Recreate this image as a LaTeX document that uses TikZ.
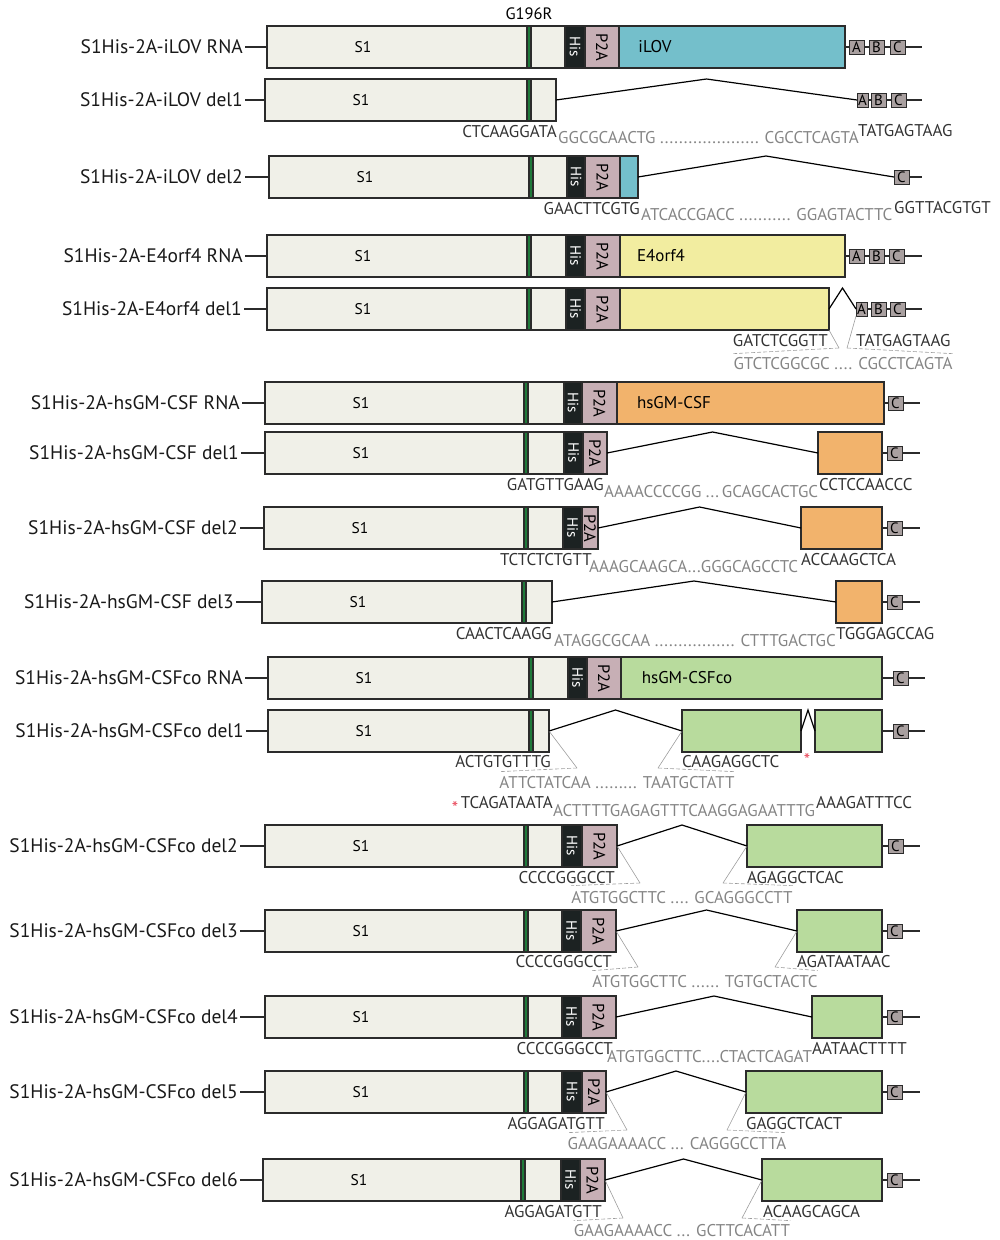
\documentclass[tikz,border=0pt]{standalone}
\usepackage{fontspec}
\setmainfont{PT Sans}
\usetikzlibrary{calc,positioning}
\definecolor{s1fill}{HTML}{F0F0E8}
\definecolor{boxline}{HTML}{2B2B2B}
\definecolor{mutgreen}{HTML}{1F7A3A}
\definecolor{hisblack}{HTML}{1C2222}
\definecolor{ptamauve}{HTML}{C7AFB5}
\definecolor{ilovcyan}{HTML}{74BFCB}
\definecolor{e4yellow}{HTML}{F2EDA0}
\definecolor{csforange}{HTML}{F2B36C}
\definecolor{cogreen}{HTML}{B8DB9D}
\definecolor{utrgray}{HTML}{A9A0A0}
\definecolor{seqgray}{HTML}{858585}
\definecolor{starred}{HTML}{E8485A}
\tikzset{
  part/.style={draw=boxline, line width=1.1pt, inner sep=0pt, outer sep=0pt, minimum height=42pt, anchor=west},
  s1part/.style={part, fill=s1fill},
  mutbar/.style={part, fill=mutgreen, minimum width=4pt},
  hispart/.style={part, fill=hisblack, minimum width=19pt, text=white, font=\fontsize{15}{15}\selectfont},
  ptapart/.style={part, fill=ptamauve, minimum width=35pt, font=\fontsize{16.5}{16}\selectfont},
  ilovpart/.style={part, fill=ilovcyan},
  e4part/.style={part, fill=e4yellow},
  csfpart/.style={part, fill=csforange},
  copart/.style={part, fill=cogreen},
  utr/.style={draw=boxline, line width=1pt, fill=utrgray, minimum width=15pt, minimum height=14pt,
              inner sep=0pt, outer sep=0pt, anchor=west, font=\fontsize{15}{15}\selectfont},
  namelab/.style={anchor=east, inner sep=2pt, font=\fontsize{19.5}{20}\selectfont, text=black!90},
  s1txt/.style={inner sep=0pt, font=\fontsize{15.5}{16}\selectfont},
  instxt/.style={inner sep=0pt, font=\fontsize{17}{17}\selectfont},
  mutlab/.style={inner sep=0pt, font=\fontsize{16.5}{17}\selectfont},
  seqk/.style={inner sep=0pt, font=\fontsize{17}{17}\selectfont, text=black!80},
  seqg/.style={seqk, text=seqgray},
  redstar/.style={inner sep=0pt, text=starred, font=\fontsize{18}{18}\selectfont},
  link/.style={draw=boxline, line width=1.1pt},
  splice/.style={draw=black, line width=1.2pt},
  zoomln/.style={draw=seqgray!80, line width=0.6pt},
  zoomdash/.style={zoomln, dash pattern=on 4pt off 2pt},
}

\begin{document}
\begin{tikzpicture}[x=1pt, y=-1pt]
\useasboundingbox (0,0) rectangle (999,1240);

% iLOV RNA
\node[s1part, minimum width=260pt] (s1-1) at (267,47) {};
\node[mutbar] (mut-1) at (s1-1.east) {};
\node[s1part, minimum width=34pt] (sp-1) at (mut-1.east) {};
\node[hispart, minimum width=20pt] (his-1) at (sp-1.east) {\rotatebox{-90}{His}};
\node[ptapart, minimum width=34pt] (pta-1) at (his-1.east) {\rotatebox{-90}{P2A}};
\node[ilovpart, minimum width=226pt] (ex-1) at (pta-1.east) {};
\node[instxt] (nm-1) at (655,47) {iLOV};
\node[mutlab, above=6pt of mut-1] (g196r) {G196R};
\node[utr] (utrA-1) at (849,47) {A};
\node[utr] (utrB-1) at (869,47) {B};
\node[utr] (utrC-1) at (890,47) {C};
\coordinate (end-1) at (922,47);
\draw[link] (ex-1.east) -- (utrA-1.west) (utrA-1.east) -- (utrB-1.west) (utrB-1.east) -- (utrC-1.west) (utrC-1.east) -- (end-1);

% iLOV del1
\node[s1part, minimum width=262pt] (s1-2) at (265,100) {};
\node[mutbar] (mut-2) at (s1-2.east) {};
\node[s1part, minimum width=25pt] (sp-2) at (mut-2.east) {};
\node[utr, minimum width=11pt] (utrA-2) at (857,100) {A};
\node[utr] (utrB-2) at (871,100) {B};
\node[utr] (utrC-2) at (891,100) {C};
\coordinate (end-2) at (922,100);
\draw[link] (utrA-2.east) -- (utrB-2.west) (utrB-2.east) -- (utrC-2.west) (utrC-2.east) -- (end-2);
\node[seqk, anchor=east] (dn-2) at (557,132) {CTCAAGGATA};
\node[seqg, anchor=west] (in-2) at (558,138) {GGCGCAACTG ..................... CGCCTCAGTA};
\node[seqk, anchor=west] (ac-2) at (858,131) {TATGAGTAAG};

% iLOV del2
\node[s1part, minimum width=260pt] (s1-3) at (269,177) {};
\node[mutbar] (mut-3) at (s1-3.east) {};
\node[s1part, minimum width=34pt] (sp-3) at (mut-3.east) {};
\node[hispart, minimum width=18pt] (his-3) at (sp-3.east) {\rotatebox{-90}{His}};
\node[ptapart] (pta-3) at (his-3.east) {\rotatebox{-90}{P2A}};
\node[ilovpart, minimum width=18pt] (ex-3) at (pta-3.east) {};
\node[utr] (utrC-3) at (894,177) {C};
\coordinate (end-3) at (922,177);
\draw[link] (utrC-3.east) -- (end-3);
\node[seqk, anchor=east] (dn-3) at (640,209) {GAACTTCGTG};
\node[seqg, anchor=west] (in-3) at (641,215) {ATCACCGACC ........... GGAGTACTTC};
\node[seqk, anchor=west] (ac-3) at (894,208) {GGTTACGTGT};

% E4orf4 RNA
\node[s1part, minimum width=260pt] (s1-4) at (267,256) {};
\node[mutbar] (mut-4) at (s1-4.east) {};
\node[s1part, minimum width=35pt] (sp-4) at (mut-4.east) {};
\node[hispart] (his-4) at (sp-4.east) {\rotatebox{-90}{His}};
\node[ptapart] (pta-4) at (his-4.east) {\rotatebox{-90}{P2A}};
\node[e4part, minimum width=225pt] (ex-4) at (pta-4.east) {};
\node[instxt] (nm-4) at (661,256) {E4orf4};
\node[utr] (utrA-4) at (849,256) {A};
\node[utr] (utrB-4) at (869,256) {B};
\node[utr] (utrC-4) at (889,256) {C};
\coordinate (end-4) at (922,256);
\draw[link] (ex-4.east) -- (utrA-4.west) (utrA-4.east) -- (utrB-4.west) (utrB-4.east) -- (utrC-4.west) (utrC-4.east) -- (end-4);

% E4orf4 del1
\node[s1part, minimum width=260pt] (s1-5) at (267,309) {};
\node[mutbar] (mut-5) at (s1-5.east) {};
\node[s1part, minimum width=35pt] (sp-5) at (mut-5.east) {};
\node[hispart] (his-5) at (sp-5.east) {\rotatebox{-90}{His}};
\node[ptapart] (pta-5) at (his-5.east) {\rotatebox{-90}{P2A}};
\node[e4part, minimum width=209pt] (ex-5) at (pta-5.east) {};
\node[utr, minimum width=11pt] (utrA-5) at (856,309) {A};
\node[utr] (utrB-5) at (871,309) {B};
\node[utr] (utrC-5) at (890,309) {C};
\coordinate (end-5) at (922,309);
\draw[link] (utrA-5.east) -- (utrB-5.west) (utrB-5.east) -- (utrC-5.west) (utrC-5.east) -- (end-5);
\node[seqk, anchor=east] (dn-5) at (828,341) {GATCTCGGTT};
\node[seqk, anchor=west] (ac-5) at (856,341) {TATGAGTAAG};
\node[seqg] (in-5) at (843,364) {GTCTCGGCGC .... CGCCTCAGTA};
\coordinate (bl-5) at (839,348);
\coordinate (br-5) at (847,348);
\draw[zoomln] (ex-5.south east) -- (bl-5) (utrA-5.south west) -- (br-5);
\draw[zoomdash] (bl-5) -- ([yshift=4pt]in-5.north west) (br-5) -- ([yshift=4pt]in-5.north east);

% hsGM-CSF RNA
\node[s1part, minimum width=259pt] (s1-6) at (265,403) {};
\node[mutbar] (mut-6) at (s1-6.east) {};
\node[s1part, minimum width=36pt] (sp-6) at (mut-6.east) {};
\node[hispart, minimum width=18pt] (his-6) at (sp-6.east) {\rotatebox{-90}{His}};
\node[ptapart] (pta-6) at (his-6.east) {\rotatebox{-90}{P2A}};
\node[csfpart, minimum width=267pt] (ex-6) at (pta-6.east) {};
\node[instxt] (nm-6) at (674,403) {hsGM-CSF};

% hsGM-CSF del1
\node[s1part, minimum width=259pt] (s1-7) at (265,453) {};
\node[mutbar] (mut-7) at (s1-7.east) {};
\node[s1part, minimum width=36pt] (sp-7) at (mut-7.east) {};
\node[hispart] (his-7) at (sp-7.east) {\rotatebox{-90}{His}};
\node[ptapart, minimum width=24pt] (pta-7) at (his-7.east) {\rotatebox{-90}{P2A}};
\node[csfpart, minimum width=64pt] (ex-7) at (818,453) {};
\node[seqk, anchor=east] (dn-7) at (604,485) {GATGTTGAAG};
\node[seqg, anchor=west] (in-7) at (604,492) {AAAACCCCGG ...\,GCAGCACTGC};
\node[seqk, anchor=west] (ac-7) at (819,485) {CCTCCAACCC};

% hsGM-CSF del2
\node[s1part, minimum width=260pt] (s1-8) at (264,528) {};
\node[mutbar] (mut-8) at (s1-8.east) {};
\node[s1part, minimum width=35pt] (sp-8) at (mut-8.east) {};
\node[hispart] (his-8) at (sp-8.east) {\rotatebox{-90}{His}};
\node[ptapart, minimum width=16pt] (pta-8) at (his-8.east) {\rotatebox{-90}{P2A}};
\node[csfpart, minimum width=81pt] (ex-8) at (801,528) {};
\node[seqk, anchor=east] (dn-8) at (592,560) {TCTCTCTGTT};
\node[seqg, anchor=west] (in-8) at (589,567) {AAAGCAAGCA...GGGCAGCCTC};
\node[seqk, anchor=west] (ac-8) at (801,560) {ACCAAGCTCA};

% hsGM-CSF del3
\node[s1part, minimum width=260pt] (s1-9) at (262,602) {};
\node[mutbar] (mut-9) at (s1-9.east) {};
\node[s1part, minimum width=26pt] (sp-9) at (mut-9.east) {};
\node[csfpart, minimum width=46pt] (ex-9) at (836,602) {};
\node[seqk, anchor=east] (dn-9) at (552,634) {CAACTCAAGG};
\node[seqg, anchor=west] (in-9) at (554,641) {ATAGGCGCAA ................. CTTTGACTGC};
\node[seqk, anchor=west] (ac-9) at (836,634) {TGGGAGCCAG};

% hsGM-CSFco RNA
\node[s1part, minimum width=261pt] (s1-10) at (268,678) {};
\node[mutbar] (mut-10) at (s1-10.east) {};
\node[s1part, minimum width=35pt] (sp-10) at (mut-10.east) {};
\node[hispart] (his-10) at (sp-10.east) {\rotatebox{-90}{His}};
\node[ptapart, minimum width=34pt] (pta-10) at (his-10.east) {\rotatebox{-90}{P2A}};
\node[copart, minimum width=261pt] (ex-10) at (pta-10.east) {};
\node[instxt] (nm-10) at (687,678) {hsGM-CSFco};

% hsGM-CSFco del1
\node[s1part, minimum width=261pt] (s1-11) at (268,731) {};
\node[mutbar] (mut-11) at (s1-11.east) {};
\node[s1part, minimum width=16pt] (sp-11) at (mut-11.east) {};
\node[copart, minimum width=119pt] (exa-11) at (682,731) {};
\node[copart, minimum width=67pt] (ex-11) at (815,731) {};
\node[redstar] (ast-1) at (807,760) {*};
\node[seqk, anchor=east] (dn-11) at (551,762) {ACTGTGTTTG};
\node[seqk, anchor=west] (ac-11) at (682,762) {CAAGAGGCTC};
\node[seqg] (in-11) at (617,783) {ATTCTATCAA ......... TAATGCTATT};
\coordinate (bl-11) at (577,768);
\coordinate (br-11) at (658,768);
\draw[zoomln] (sp-11.east) -- (bl-11) (exa-11.west) -- (br-11);
\draw[zoomdash] (bl-11) -- ([yshift=5pt]in-11.north west) (br-11) -- ([yshift=5pt]in-11.north east);
\node[redstar] (ast-2) at (455,808) {*};
\node[seqk, anchor=east] (dnb-11) at (553,803) {TCAGATAATA};
\node[seqg, anchor=west] (inb-11) at (553,811) {ACTTTTGAGAGTTTCAAGGAGAATTTG};
\node[seqk, anchor=west] (acb-11) at (816,803) {AAAGATTTCC};

% hsGM-CSFco del2
\node[s1part, minimum width=259pt] (s1-12) at (265,846) {};
\node[mutbar] (mut-12) at (s1-12.east) {};
\node[s1part, minimum width=34pt] (sp-12) at (mut-12.east) {};
\node[hispart, minimum width=20pt] (his-12) at (sp-12.east) {\rotatebox{-90}{His}};
\node[ptapart] (pta-12) at (his-12.east) {\rotatebox{-90}{P2A}};
\node[copart, minimum width=135pt] (ex-12) at (747,846) {};
\node[seqk, anchor=east] (dn-12) at (615,878) {CCCCGGGCCT};
\node[seqk, anchor=west] (ac-12) at (747,878) {AGAGGCTCAC};
\node[seqg] (in-12) at (682,898) {ATGTGGCTTC .... GCAGGGCCTT};
\coordinate (bl-12) at (640,883);
\coordinate (br-12) at (723,883);
\draw[zoomln] (pta-12.east) -- (bl-12) (ex-12.west) -- (br-12);
\draw[zoomdash] (bl-12) -- ([yshift=6pt]in-12.north west) (br-12) -- ([yshift=6pt]in-12.north east);

% hsGM-CSFco del3
\node[s1part, minimum width=259pt] (s1-13) at (265,931) {};
\node[mutbar] (mut-13) at (s1-13.east) {};
\node[s1part, minimum width=34pt] (sp-13) at (mut-13.east) {};
\node[hispart] (his-13) at (sp-13.east) {\rotatebox{-90}{His}};
\node[ptapart] (pta-13) at (his-13.east) {\rotatebox{-90}{P2A}};
\node[copart, minimum width=85pt] (ex-13) at (797,931) {};
\node[seqk, anchor=east] (dn-13) at (612,962) {CCCCGGGCCT};
\node[seqk, anchor=west] (ac-13) at (797,962) {AGATAATAAC};
\node[seqg] (in-13) at (705,982) {ATGTGGCTTC ...... TGTGCTACTC};
\coordinate (bl-13) at (638,967);
\coordinate (br-13) at (775,967);
\draw[zoomln] (pta-13.east) -- (bl-13) (ex-13.west) -- (br-13);
\draw[zoomdash] (bl-13) -- ([yshift=5pt]in-13.north west) (br-13) -- ([yshift=5pt]in-13.north east);

% hsGM-CSFco del4
\node[s1part, minimum width=259pt] (s1-14) at (265,1017) {};
\node[mutbar] (mut-14) at (s1-14.east) {};
\node[s1part, minimum width=34pt] (sp-14) at (mut-14.east) {};
\node[hispart] (his-14) at (sp-14.east) {\rotatebox{-90}{His}};
\node[ptapart] (pta-14) at (his-14.east) {\rotatebox{-90}{P2A}};
\node[copart, minimum width=70pt] (ex-14) at (812,1017) {};
\node[seqk, anchor=east] (dn-14) at (613,1049) {CCCCGGGCCT};
\node[seqg, anchor=west] (in-14) at (607,1057) {ATGTGGCTTC....CTACTCAGAT};
\node[seqk, anchor=west] (ac-14) at (812,1049) {AATAACTTTT};

% hsGM-CSFco del5
\node[s1part, minimum width=259pt] (s1-15) at (265,1092) {};
\node[mutbar] (mut-15) at (s1-15.east) {};
\node[s1part, minimum width=34pt] (sp-15) at (mut-15.east) {};
\node[hispart, minimum width=20pt] (his-15) at (sp-15.east) {\rotatebox{-90}{His}};
\node[ptapart, minimum width=24pt] (pta-15) at (his-15.east) {\rotatebox{-90}{P2A}};
\node[copart, minimum width=136pt] (ex-15) at (746,1092) {};
\node[seqk, anchor=east] (dn-15) at (605,1124) {AGGAGATGTT};
\node[seqk, anchor=west] (ac-15) at (746,1124) {GAGGCTCACT};
\node[seqg] (in-15) at (677,1144) {GAAGAAAACC ... CAGGGCCTTA};
\coordinate (bl-15) at (627,1130);
\coordinate (br-15) at (727,1130);
\draw[zoomln] (pta-15.east) -- (bl-15) (ex-15.west) -- (br-15);
\draw[zoomdash] (bl-15) -- ([yshift=5pt]in-15.north west) (br-15) -- ([yshift=5pt]in-15.north east);

% hsGM-CSFco del6
\node[s1part, minimum width=258pt] (s1-16) at (263,1180) {};
\node[mutbar] (mut-16) at (s1-16.east) {};
\node[s1part, minimum width=36pt] (sp-16) at (mut-16.east) {};
\node[hispart] (his-16) at (sp-16.east) {\rotatebox{-90}{His}};
\node[ptapart, minimum width=25pt] (pta-16) at (his-16.east) {\rotatebox{-90}{P2A}};
\node[copart, minimum width=120pt] (ex-16) at (762,1180) {};
\node[seqk, anchor=east] (dn-16) at (602,1212) {AGGAGATGTT};
\node[seqk, anchor=west] (ac-16) at (763,1212) {ACAAGCAGCA};
\node[seqg] (in-16) at (682,1231) {GAAGAAAACC ... GCTTCACATT};
\coordinate (bl-16) at (623,1218);
\coordinate (br-16) at (742,1218);
\draw[zoomln] (pta-16.east) -- (bl-16) (ex-16.west) -- (br-16);
\draw[zoomdash] (bl-16) -- ([yshift=4pt]in-16.north west) (br-16) -- ([yshift=4pt]in-16.north east);

% 3' end with C box
\foreach \n/\cx/\ex/\yy in {6/888/920/403, 7/887/920/453, 8/887/920/528, 9/887/920/602, 10/893/925/678,
    11/893/925/731, 12/888/920/846, 13/887/920/931, 14/887/920/1017, 15/887/920/1092, 16/887/920/1180}{
  \node[utr] (utrC-\n) at (\cx,\yy) {C};
  \coordinate (end-\n) at (\ex,\yy);
  \draw[link] (ex-\n.east) -- (utrC-\n.west) (utrC-\n.east) -- (end-\n);
}

% spliced-out parts
\foreach \n/\d/\a in {2/sp-2/utrA-2, 3/ex-3/utrC-3, 5/ex-5/utrA-5, 7/pta-7/ex-7, 8/pta-8/ex-8, 9/sp-9/ex-9,
    11/sp-11/exa-11, 11b/exa-11/ex-11, 12/pta-12/ex-12, 13/pta-13/ex-13, 14/pta-14/ex-14, 15/pta-15/ex-15, 16/pta-16/ex-16}{
  \coordinate (pk-\n) at ($(\d.north east)!0.5!(\a.west |- \d.north)$);
  \draw[splice] (\d.east) -- (pk-\n) -- (\a.west);
}

% S1 labels
\foreach \n in {1,...,16}
  \node[s1txt] (st-\n) at ([xshift=96pt]s1-\n.west) {S1};

% construct names
\foreach \n/\lx/\yy/\txt in {1/245/47/{S1His-2A-iLOV RNA}, 2/245/100/{S1His-2A-iLOV del1}, 3/245/177/{S1His-2A-iLOV del2},
    4/245/256/{S1His-2A-E4orf4 RNA}, 5/244/309/{S1His-2A-E4orf4 del1}, 6/242/403/{S1His-2A-hsGM-CSF RNA},
    7/241/453/{S1His-2A-hsGM-CSF del1}, 8/240/528/{S1His-2A-hsGM-CSF del2}, 9/236/602/{S1His-2A-hsGM-CSF del3},
    10/245/678/{S1His-2A-hsGM-CSFco RNA}, 11/246/731/{S1His-2A-hsGM-CSFco del1}, 12/240/846/{S1His-2A-hsGM-CSFco del2},
    13/240/931/{S1His-2A-hsGM-CSFco del3}, 14/240/1017/{S1His-2A-hsGM-CSFco del4}, 15/240/1092/{S1His-2A-hsGM-CSFco del5},
    16/240/1180/{S1His-2A-hsGM-CSFco del6}}{
  \node[namelab] (lab-\n) at (\lx,\yy) {\txt};
  \draw[link] (lab-\n.east) -- (s1-\n.west);
}
\end{tikzpicture}
\end{document}
